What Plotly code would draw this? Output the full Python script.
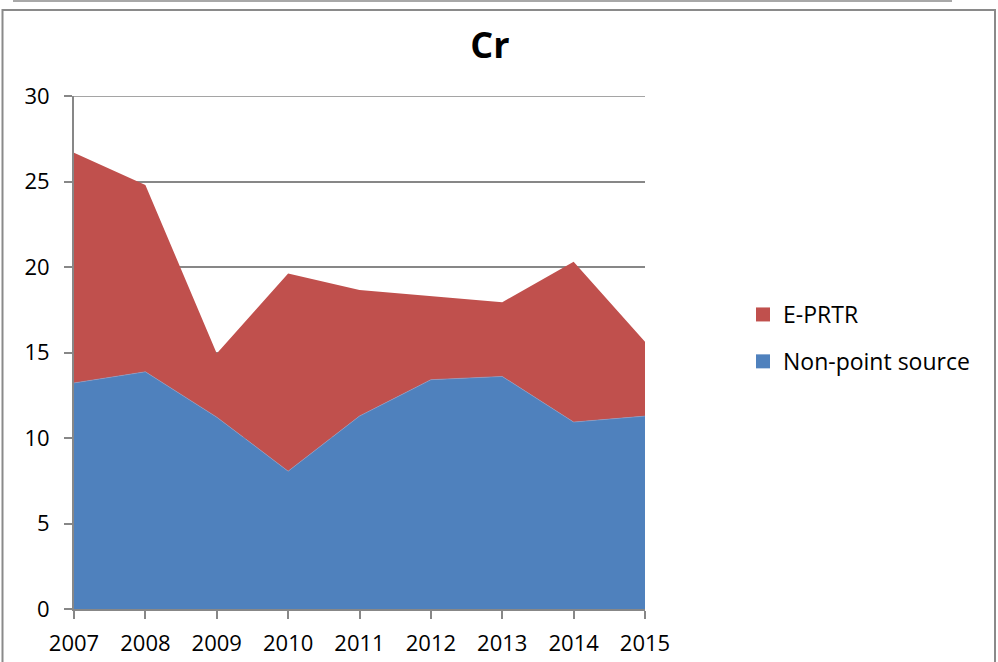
import plotly.graph_objects as go

years = [2007, 2008, 2009, 2010, 2011, 2012, 2013, 2014, 2015]
non_point_source = [13.22, 13.87, 11.22, 8.06, 11.28, 13.41, 13.60, 10.93, 11.28]
e_prtr = [13.46, 10.93, 3.72, 11.56, 7.37, 4.89, 4.34, 9.37, 4.35]
y_ticks = [0, 5, 10, 15, 20, 25, 30]

BLUE = "#4F81BD"
RED = "#C0504D"
GRID = "#878787"
FONT = "Open Sans"

W, H = 998, 662
L, R, T, B = 74, 353, 96, 53
PW, PH = W - L - R, H - T - B


def px(x):
    return (x - L) / PW


def py(y):
    return (H - B - y) / PH


fig = go.Figure()
fig.add_trace(go.Scatter(
    x=years, y=non_point_source, name="Non-point source", stackgroup="one",
    mode="lines", line=dict(width=0.6, color="#7ea3d3"), fillcolor=BLUE,
    showlegend=False, hoverinfo="x+y+name"))
fig.add_trace(go.Scatter(
    x=years, y=e_prtr, name="E-PRTR", stackgroup="one",
    mode="lines", line=dict(width=0), fillcolor=RED,
    showlegend=False, hoverinfo="x+y+name"))

# legend entries (square swatches)
fig.add_trace(go.Scatter(
    x=[None], y=[None], name="E-PRTR", mode="markers",
    marker=dict(symbol="square", size=14, color=RED), legendgroup="a"))
fig.add_trace(go.Scatter(
    x=[None], y=[None], name="Non-point source", mode="markers",
    marker=dict(symbol="square", size=14, color=BLUE), legendgroup="b"))

shapes = [
    dict(type="rect", xref="paper", yref="paper",
         x0=px(2.5), x1=px(995), y0=py(10), y1=py(700),
         line=dict(color="#8a8a8a", width=2), fillcolor="rgba(0,0,0,0)", layer="above"),
    dict(type="line", xref="paper", yref="paper",
         x0=px(13), x1=px(952), y0=py(1), y1=py(1),
         line=dict(color="#a8a8a8", width=2)),
    # top gridline at 30 (plotly omits the gridline on the range edge)
    dict(type="line", xref="paper", yref="y", x0=px(66), x1=1, y0=30, y1=30,
         line=dict(color=GRID, width=1.5), layer="below"),
]

fig.update_layout(
    width=W, height=H,
    margin=dict(l=L, r=R, t=T, b=B, pad=0, autoexpand=False),
    paper_bgcolor="white", plot_bgcolor="white",
    font=dict(family=FONT, size=22, color="black"),
    title=dict(text="<b>Cr</b>", x=490 / W, xref="container", xanchor="center",
               y=1 - 45 / H, yref="container", yanchor="middle",
               font=dict(family=FONT, size=36, color="black")),
    xaxis=dict(range=[2007, 2015], tickmode="array", tickvals=years,
               ticktext=[str(y) for y in years], showgrid=False,
               showline=True, linecolor=GRID, linewidth=2,
               ticks="outside", ticklen=8, tickwidth=1.5, tickcolor=GRID,
               ticklabelstandoff=6, zeroline=False, automargin=False,
               tickfont=dict(family=FONT, size=22, color="black")),
    yaxis=dict(range=[0, 30], tickmode="array", tickvals=y_ticks,
               showgrid=True, gridcolor=GRID, gridwidth=1.5,
               showline=True, linecolor=GRID, linewidth=2,
               ticks="outside", ticklen=8, tickwidth=1.5, tickcolor=GRID,
               ticklabelstandoff=10, zeroline=False, automargin=False,
               tickfont=dict(family=FONT, size=22, color="black")),
    legend=dict(x=px(743), y=py(338), xanchor="left", yanchor="middle",
                tracegroupgap=14, bgcolor="rgba(0,0,0,0)",
                font=dict(family=FONT, size=23, color="black")),
    shapes=shapes,
    hovermode="x",
)

fig.write_html("out.html", config={"displayModeBar": False},
               post_script="document.body.style.margin='0';document.body.style.overflow='hidden';")
